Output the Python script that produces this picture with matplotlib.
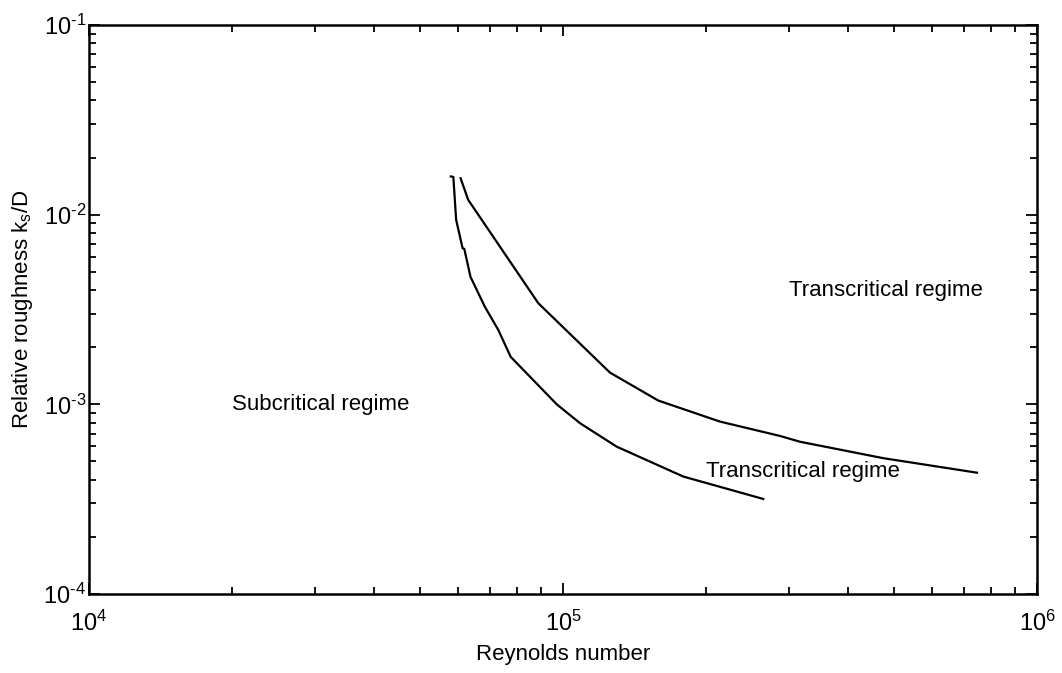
import math
import matplotlib
matplotlib.use("Agg")
from matplotlib import pyplot as plt
from matplotlib.ticker import FuncFormatter

plt.rcParams["font.family"] = ["Liberation Sans", "DejaVu Sans"]
plt.rcParams["mathtext.fontset"] = "custom"
plt.rcParams["mathtext.rm"] = "Liberation Sans"
plt.rcParams["mathtext.it"] = "Liberation Sans:italic"

# lower boundary: subcritical -> transcritical
re_lower = [58000, 58700, 59500, 61400, 61900, 63800, 68400, 73000, 77550,
            97000, 108700, 129800, 179400, 264500]
ks_lower = [1.59e-2, 1.58e-2, 9.4e-3, 6.65e-3, 6.6e-3, 4.7e-3, 3.27e-3,
            2.47e-3, 1.78e-3, 1.0e-3, 7.94e-4, 5.98e-4, 4.16e-4, 3.17e-4]

# upper boundary
re_upper = [60800, 63100, 88700, 125600, 158800, 214300, 287000, 316000,
            474000, 747000]
ks_upper = [1.556e-2, 1.196e-2, 3.41e-3, 1.47e-3, 1.047e-3, 8.11e-4,
            6.81e-4, 6.35e-4, 5.2e-4, 4.36e-4]


def pow10(v, pos):
    e = int(round(math.log10(v)))
    return r"10$^{\text{%d}}$" % e


fig = plt.figure(figsize=(10.62, 6.73), dpi=100)
ax = fig.add_axes([0.0838, 0.1174, 0.8927, 0.8455])

ax.loglog(re_lower, ks_lower, color="black", lw=1.6)
ax.loglog(re_upper, ks_upper, color="black", lw=1.6)

ax.set_xlim(1e4, 1e6)
ax.set_ylim(1e-4, 1e-1)

ax.text(2.0e4, 1.0e-3, "Subcritical regime", fontsize=16, va="center")
ax.text(3.0e5, 4.0e-3, "Transcritical regime", fontsize=16, va="center")
ax.text(2.0e5, 4.45e-4, "Transcritical regime", fontsize=16, va="center")

ax.set_xlabel("Reynolds number", fontsize=16, labelpad=6)
ax.set_ylabel(r"Relative roughness k$_\mathregular{s}$/D", fontsize=16)
ax.yaxis.set_label_coords(-0.057, 0.5)

ax.xaxis.set_major_formatter(FuncFormatter(pow10))
ax.yaxis.set_major_formatter(FuncFormatter(pow10))

for s in ax.spines.values():
    s.set_linewidth(1.8)
ax.tick_params(which="both", direction="in", top=True, right=True,
               labelsize=17, width=1.3)
ax.tick_params(axis="x", which="major", length=8, pad=12)
ax.tick_params(axis="y", which="major", length=8, pad=2)
ax.tick_params(which="minor", length=5)

fig.savefig("out.png", dpi=100)
